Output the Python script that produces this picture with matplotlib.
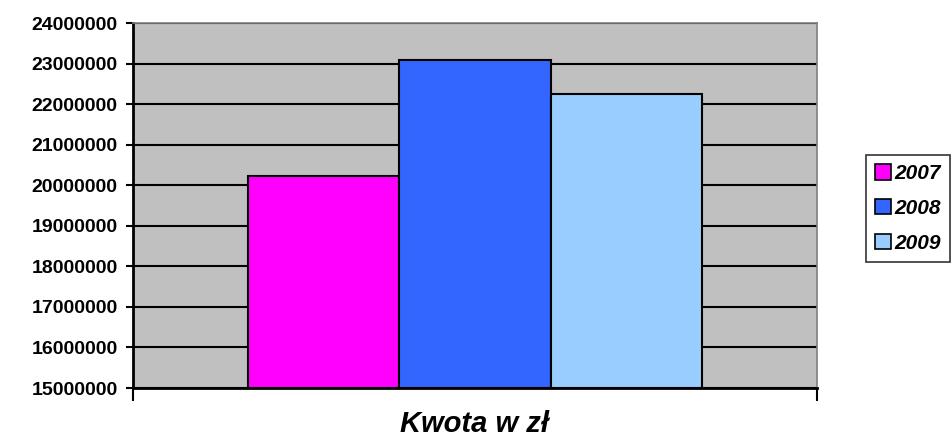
import matplotlib.pyplot as plt
from matplotlib.patches import Patch

# chart data
years = ['2007', '2008', '2009']
amounts = [20230000, 23100000, 22260000]
colors = ['#FF00FF', '#3366FF', '#99CCFF']
y_ticks = list(range(15000000, 24000001, 1000000))
x_label = 'Kwota w zł'

plt.rcParams['font.family'] = ['Liberation Sans', 'DejaVu Sans']

fig = plt.figure(figsize=(9.53, 4.47), dpi=100)
ax = fig.add_axes([133 / 953, 1 - 388 / 447, 684 / 953, 365 / 447])
ax.set_facecolor('#C0C0C0')

# bars side by side
positions = [i - 1 for i in range(len(years))]
ax.bar(positions, [a - y_ticks[0] for a in amounts], bottom=y_ticks[0], width=1.0,
       color=colors, edgecolor='black', linewidth=1.5, zorder=3)

ax.set_ylim(y_ticks[0], y_ticks[-1])
ax.set_xlim(-2.26, 2.26)
ax.set_yticks(y_ticks)
ax.set_yticklabels([str(t) for t in y_ticks], fontsize=14, fontweight='bold')
ax.yaxis.grid(True, color='black', linewidth=1.5, zorder=1)
ax.set_axisbelow(True)

ax.set_xticks([-2.26, 2.26])
ax.set_xticklabels(['', ''])
ax.tick_params(axis='x', direction='out', length=9, width=1.5, color='black')
ax.tick_params(axis='y', direction='out', length=5, width=1.5, color='black', pad=6)

ax.spines['left'].set_linewidth(2)
ax.spines['bottom'].set_linewidth(2)
ax.spines['top'].set_color('#808080')
ax.spines['right'].set_color('#808080')
ax.spines['top'].set_linewidth(1.2)
ax.spines['right'].set_linewidth(1.2)

# axis title below the plot
fig.text(475 / 953, 1 - 424 / 447, x_label, fontsize=21, fontweight='bold',
         fontstyle='italic', ha='center', va='center')

handles = [Patch(facecolor=c, edgecolor='black', linewidth=1.2) for c in colors]
leg = fig.legend(handles, years, loc='upper left', bbox_to_anchor=(866 / 953, 1 - 155 / 447),
                 frameon=True, fancybox=False, edgecolor='black', handlelength=0.75,
                 handleheight=0.75, handletextpad=0.15, labelspacing=0.75, borderpad=0.45,
                 prop={'size': 15, 'weight': 'bold', 'style': 'italic'}, borderaxespad=0)
leg.get_frame().set_linewidth(1.2)

plt.savefig('out.png', dpi=100)
